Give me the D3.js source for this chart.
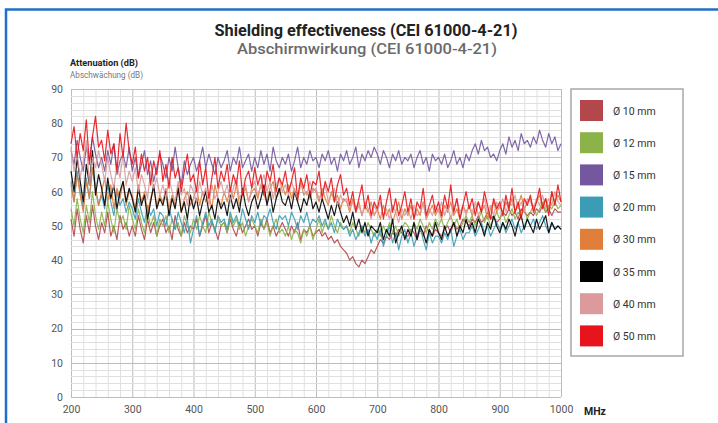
<!DOCTYPE html>
<html><head><meta charset="utf-8">
<script src="https://cdn.jsdelivr.net/npm/d3@7"></script>
<style>body{margin:0;background:#fff}svg{display:block}</style>
</head><body><svg id="c" width="718" height="423"></svg>
<script>
const freqStart = 200, freqStep = 5;
const xTicks = [200,300,400,500,600,700,800,900,1000];
const yTicks = [0,10,20,30,40,50,60,70,80,90];
const legendLabels = ["Ø 10 mm","Ø 12 mm","Ø 15 mm","Ø 20 mm","Ø 30 mm","Ø 35 mm","Ø 40 mm","Ø 50 mm"];
const colors = ["#b4474c","#8cb34a","#74589f","#3a9db5","#e07e3a","#000000","#dc9a9c","#e8141b"];

const d10 = [52,47,55,49,45,53,48,56,50,46, 51,48,54,47,50,46,53,49,51,47, 50,47,53,49,46,52,48,51,47,50, 52,48,50,46,53,49,47,51,48,50,
 49,52,47,50,53,48,51,49,46,50, 51,48,52,49,47,51,48,50,52,49, 50,47,51,49,52,48,50,47,49,51, 49,47,50,48,51,46,49,48,50,47,
 48,49,47,48,46,47,45,46,44,43, 42,40,41,39,38,40,39,41,43,42, 44,46,45,47,46,48,47,49,48,47, 47,49,48,46,49,47,50,48,47,49,
 48,47,49,50,48,51,49,50,52,51, 50,52,51,53,51,52,54,52,53,51, 52,54,53,55,53,54,52,55,54,53, 54,53,55,54,56,54,55,53,55,54, 54];
const d12 = [55,50,58,52,48,56,51,60,53,49, 54,50,57,52,48,55,51,53,49,56, 52,49,55,51,48,54,50,53,47,52, 50,53,48,52,49,51,47,53,50,48,
 52,49,53,50,48,54,51,49,52,50, 51,48,53,50,52,49,51,47,50,52, 50,48,52,49,51,47,50,52,48,49, 47,50,46,49,48,45,49,47,50,46,
 49,52,48,51,49,53,50,48,51,49, 50,48,51,49,47,50,48,51,49,47, 49,47,50,48,51,48,50,47,49,51, 50,48,51,49,52,50,48,51,49,52,
 50,52,49,51,53,50,52,49,51,53, 51,53,50,52,54,51,53,50,52,54, 52,54,51,53,55,52,54,53,55,52, 54,56,53,55,57,54,56,55,57,55, 56];
const d15 = [72,68,75,70,66,73,69,76,71,67, 70,66,72,68,74,65,69,71,67,73, 66,70,64,68,72,65,69,63,67,71, 68,64,70,66,73,67,62,69,65,68,
 70,66,69,73,67,71,68,65,70,67, 69,72,66,70,68,73,67,69,71,66, 70,67,72,68,71,66,73,69,67,70, 68,71,66,69,73,67,70,68,72,69,
 70,67,71,69,72,68,70,66,71,69, 72,68,70,73,67,71,69,72,70,73, 71,68,72,70,67,71,69,72,68,70, 69,71,67,70,72,68,70,66,71,69,
 70,68,71,67,69,72,68,70,67,71, 69,72,74,71,75,72,73,70,71,69, 72,74,71,76,73,75,72,77,74,75, 73,76,74,78,75,73,77,74,76,72, 74];
const d20 = [63,57,66,60,55,64,58,67,61,56, 59,55,62,57,53,60,56,58,54,57, 55,52,58,54,51,56,53,55,50,54, 53,50,55,52,49,54,51,48,52,45,
 49,53,47,51,54,50,52,48,53,51, 52,49,54,51,53,50,55,52,49,53, 51,54,50,53,52,55,51,49,53,52, 53,50,54,52,49,53,51,54,50,52,
 51,53,50,52,49,51,48,52,50,49, 50,47,49,46,48,50,47,49,45,48, 46,49,44,47,50,45,48,43,47,49, 45,48,44,47,50,46,43,48,45,47,
 47,45,48,46,49,44,47,49,46,48, 48,50,47,49,51,48,50,47,49,51, 49,51,48,50,52,49,51,48,50,52, 50,52,49,51,53,50,48,51,49,50, 49];
const d30 = [62,57,65,59,54,63,58,67,61,56, 60,64,57,62,55,61,58,63,56,60, 59,55,62,57,60,54,58,61,56,59, 57,61,55,59,56,62,54,58,60,56,
 58,61,56,60,57,59,55,62,58,56, 60,57,61,58,62,56,59,61,57,60, 61,58,62,59,57,61,63,58,60,62, 59,62,58,61,57,63,59,60,58,61,
 60,57,61,58,56,60,57,59,55,58, 57,54,58,55,57,53,56,54,57,53, 55,52,56,53,55,51,54,57,52,55, 53,56,52,55,53,57,52,54,56,53,
 55,52,56,54,57,53,55,52,56,54, 56,53,55,57,54,56,52,55,57,54, 56,54,57,55,58,54,56,59,55,57, 58,55,57,59,56,58,55,60,57,59, 57];
const d35 = [66,60,70,63,57,68,62,72,59,65, 61,56,64,58,62,55,60,63,57,61, 58,54,61,56,59,52,57,62,55,58, 56,60,53,58,55,61,54,57,52,59,
 55,58,53,57,60,54,56,52,58,55, 57,53,59,55,58,54,61,56,53,57, 59,55,58,62,56,60,54,58,61,57, 56,59,55,60,57,54,58,56,60,55,
 57,54,58,55,52,56,53,57,54,51, 53,50,54,49,52,48,51,47,50,49, 48,51,46,49,47,52,45,48,50,46, 49,47,51,46,50,48,45,49,47,51,
 48,46,50,47,49,51,47,50,48,52, 49,51,48,52,50,47,51,49,53,50, 48,51,49,52,50,47,51,53,49,52, 50,48,52,49,51,53,48,51,49,50, 49];
const d40 = [73,66,71,64,69,75,62,70,67,72, 68,63,70,65,61,68,64,71,62,66, 63,67,60,65,62,58,66,61,64,59, 62,58,64,60,57,63,59,61,56,62,
 60,57,63,59,61,56,62,58,60,63, 59,62,57,61,64,58,60,62,57,61, 63,59,62,65,60,63,58,62,64,60, 62,59,63,60,58,62,61,59,63,60,
 61,58,60,62,57,59,61,56,59,57, 58,55,57,54,56,53,57,55,52,56, 54,57,53,55,52,56,54,51,55,53, 55,52,56,53,54,57,52,55,53,56,
 54,57,53,56,52,55,58,54,56,53, 56,54,57,53,55,58,54,56,53,57, 55,58,54,57,56,59,55,57,54,58, 57,55,58,56,59,55,58,56,60,57, 56];
const d50 = [74,79,70,77,72,81,68,76,82,73, 75,69,78,71,74,66,77,70,80,72, 68,73,64,71,66,70,62,69,65,72, 63,68,61,70,64,67,60,66,71,63,
 65,60,69,62,67,58,64,70,61,66, 63,68,60,65,62,69,59,64,66,61, 67,62,65,59,66,63,68,60,64,62, 66,60,63,67,58,64,61,65,59,63,
 62,66,58,63,60,64,57,62,65,59, 61,56,60,54,58,62,55,59,53,57, 55,59,52,57,61,54,58,53,56,60, 54,58,52,57,55,61,53,56,59,54,
 57,53,59,55,62,54,58,52,56,60, 55,58,53,57,54,60,56,52,58,55, 57,53,59,55,61,54,57,52,58,56, 59,54,57,61,55,58,53,60,56,62, 57];
const seriesData = [d10,d12,d15,d20,d30,d35,d40,d50];

const svg = d3.select("#c");
svg.append("rect").attr("width",718).attr("height",423).attr("fill","#fff");
svg.append("path").attr("d","M6,423V9.5H718").attr("fill","none").attr("stroke","#1f6fc6").attr("stroke-width",2.5);

const x = d3.scaleLinear().domain([200,1000]).range([71,561]);
const y = d3.scaleLinear().domain([0,90]).range([397,89]);
const g = svg.append("g");
g.selectAll(".vx").data(d3.range(200,1001,20)).join("line")
 .attr("x1",d=>x(d)+0.5).attr("x2",d=>x(d)+0.5).attr("y1",y(0)).attr("y2",y(90))
 .attr("stroke",d=>d%100===0?"#bdbdbd":"#e0e0e0").attr("stroke-width",1);
g.selectAll(".hy").data(d3.range(0,91,2)).join("line")
 .attr("y1",d=>Math.round(y(d))+0.5).attr("y2",d=>Math.round(y(d))+0.5).attr("x1",x(200)).attr("x2",x(1000))
 .attr("stroke",d=>d%10===0?"#bdbdbd":"#e0e0e0").attr("stroke-width",1);

const font = "Roboto, 'DejaVu Sans', sans-serif";
const xAxis = svg.append("g").attr("transform",`translate(0,${y(0)})`)
 .call(d3.axisBottom(x).tickValues(xTicks).tickSize(0).tickPadding(9).tickFormat(d3.format("d")));
xAxis.select(".domain").remove();
xAxis.selectAll("text").attr("font-family",font).attr("font-size",10.5).attr("fill","#555");
const yAxis = svg.append("g").attr("transform",`translate(${x(200)},0)`)
 .call(d3.axisLeft(y).tickValues(yTicks).tickSize(0).tickPadding(8));
yAxis.select(".domain").remove();
yAxis.selectAll("text").attr("font-family",font).attr("font-size",10.5).attr("fill","#555");

svg.append("text").attr("x",584).attr("y",415).attr("font-family",font).attr("font-size",10.5).attr("font-weight","bold").attr("fill","#222").text("MHz");

const line = d3.line().x((d,i)=>x(freqStart+i*freqStep)).y(d=>y(d));
const lg = svg.append("g");
seriesData.forEach((s,k)=>{
  lg.append("path").datum(s).attr("d",line).attr("fill","none")
    .attr("stroke",colors[k]).attr("stroke-width",1.2).attr("stroke-opacity",0.9).attr("stroke-linejoin","round");
});

svg.append("text").attr("x",366).attr("y",36).attr("text-anchor","middle").attr("font-family",font)
 .attr("font-size",16).attr("font-weight","bold").attr("fill","#222")
 .attr("textLength",303).attr("lengthAdjust","spacingAndGlyphs").text("Shielding effectiveness (CEI 61000-4-21)");
svg.append("text").attr("x",367).attr("y",54).attr("text-anchor","middle").attr("font-family",font)
 .attr("font-size",15.5).attr("font-weight",500).attr("fill","#6a6a6a")
 .attr("textLength",260).attr("lengthAdjust","spacingAndGlyphs").text("Abschirmwirkung (CEI 61000-4-21)");
svg.append("text").attr("x",70).attr("y",66).attr("font-family",font).attr("font-size",9.5).attr("font-weight","bold").attr("fill","#222")
 .attr("textLength",68).attr("lengthAdjust","spacingAndGlyphs").text("Attenuation (dB)");
svg.append("text").attr("x",70).attr("y",78).attr("font-family",font).attr("font-size",9.5).attr("fill","#777")
 .attr("textLength",73).attr("lengthAdjust","spacingAndGlyphs").text("Abschwächung (dB)");

const leg = svg.append("g");
leg.append("rect").attr("x",571).attr("y",89).attr("width",112).attr("height",267).attr("fill","#fff").attr("stroke","#a8a8a8").attr("stroke-width",1.5);
legendLabels.forEach((t,k)=>{
  const yy = 100 + k*32.2;
  leg.append("rect").attr("x",580).attr("y",yy).attr("width",23).attr("height",21).attr("fill",colors[k]);
  leg.append("text").attr("x",613).attr("y",yy+14.5).attr("font-family",font).attr("font-size",10.5).attr("fill","#333").text(t);
});
</script></body></html>
